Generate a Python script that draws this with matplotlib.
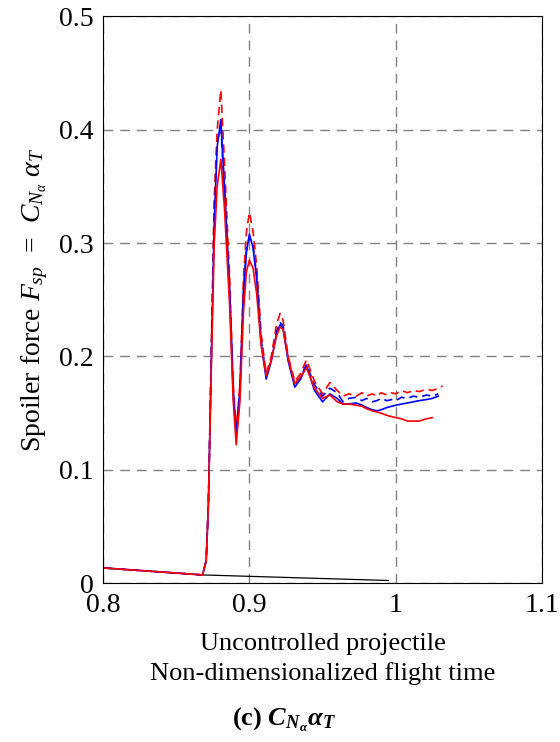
import numpy as np
from matplotlib import pyplot as plt

plt.rcParams['font.family'] = ['Liberation Serif', 'DejaVu Serif']
plt.rcParams['mathtext.fontset'] = 'custom'
plt.rcParams['mathtext.rm'] = 'Liberation Serif'
plt.rcParams['mathtext.it'] = 'Liberation Serif:italic'
plt.rcParams['mathtext.bf'] = 'Liberation Serif:italic:bold'

nan = np.nan

# flight time (non-dimensional)
t = [0.800, 0.868, 0.8705, 0.872, 0.874, 0.876, 0.878, 0.8805, 0.883, 0.8865,
     0.889, 0.891, 0.8935, 0.896, 0.898, 0.900, 0.9025, 0.905, 0.908, 0.9115,
     0.915, 0.9185, 0.921, 0.923, 0.9265, 0.931, 0.935, 0.939, 0.9445, 0.950,
     0.955, 0.960, 0.964, 0.968, 0.973, 0.977, 0.980, 0.984, 0.987, 0.990,
     0.994, 0.997, 1.000, 1.004, 1.008, 1.012, 1.016, 1.021, 1.025, 1.029, 1.032]

blue_solid = [0.0135, 0.0073, 0.020, 0.07, 0.20, 0.32, 0.385, 0.409, 0.345, 0.255,
              0.165, 0.130, 0.165, 0.255, 0.292, 0.308, 0.296, 0.268, 0.212, 0.180,
              0.196, 0.220, 0.228, 0.225, 0.196, 0.173, 0.180, 0.192, 0.170, 0.160,
              0.167, 0.163, 0.158, 0.158, 0.159, 0.157, 0.155, 0.153, 0.152, 0.153,
              0.155, 0.156, 0.157, 0.158, 0.159, 0.160, 0.161, 0.162, 0.163, 0.165, nan]

blue_dash = [0.0135, 0.0073, 0.020, 0.07, 0.20, 0.33, 0.39, 0.402, 0.350, 0.26,
             0.170, 0.135, 0.170, 0.26, 0.295, 0.305, 0.298, 0.272, 0.215, 0.183,
             0.198, 0.222, 0.230, 0.227, 0.198, 0.175, 0.182, 0.193, 0.175, 0.165,
             0.172, 0.168, 0.160, 0.163, 0.164, 0.161, 0.163, 0.160, 0.161, 0.163,
             0.161, 0.162, 0.161, 0.164, 0.163, 0.165, 0.164, 0.166, 0.165, 0.167, nan]

red_dash = [0.0135, 0.0073, 0.020, 0.07, 0.21, 0.34, 0.40, 0.435, 0.37, 0.27,
            0.175, 0.135, 0.175, 0.27, 0.31, 0.327, 0.31, 0.28, 0.22, 0.185,
            0.20, 0.228, 0.238, 0.232, 0.20, 0.178, 0.185, 0.197, 0.178, 0.167,
            0.177, 0.170, 0.165, 0.167, 0.165, 0.168, 0.165, 0.167, 0.165, 0.168,
            0.166, 0.168, 0.167, 0.170, 0.168, 0.170, 0.169, 0.171, 0.170, 0.172, 0.174]

red_solid = [0.0135, 0.0073, 0.020, 0.07, 0.19, 0.30, 0.35, 0.374, 0.33, 0.245,
             0.16, 0.122, 0.16, 0.24, 0.275, 0.285, 0.278, 0.255, 0.21, 0.183,
             0.197, 0.218, 0.226, 0.224, 0.198, 0.176, 0.182, 0.190, 0.172, 0.163,
             0.166, 0.160, 0.158, 0.158, 0.157, 0.156, 0.154, 0.152, 0.151, 0.150,
             0.148, 0.147, 0.146, 0.145, 0.143, 0.143, 0.143, 0.145, 0.146, nan, nan]

# uncontrolled projectile
t_unc = [0.800, 0.868, 0.995]
f_unc = [0.0135, 0.0073, 0.0024]

fig = plt.figure(figsize=(5.6, 7.42), dpi=100)
ax = fig.add_axes([0.184, 0.214, 0.784, 0.764])

ax.plot(t_unc, f_unc, color='black', lw=0.9)
ax.plot(t, blue_dash, color='#0000ff', lw=1.2, dashes=(5, 3))
ax.plot(t, red_dash, color='#ff0000', lw=1.2, dashes=(5, 3))
ax.plot(t, blue_solid, color='#0000ff', lw=1.2)
ax.plot(t, red_solid, color='#ff0000', lw=1.2)

ax.set_xlim(0.8, 1.1)
ax.set_ylim(0, 0.5)
ax.set_xticks([0.8, 0.9, 1.0, 1.1])
ax.set_xticklabels(['0.8', '0.9', '1', '1.1'])
ax.set_yticks([0, 0.1, 0.2, 0.3, 0.4, 0.5])
ax.set_yticklabels(['0', '0.1', '0.2', '0.3', '0.4', '0.5'])
ax.tick_params(length=0, labelsize=20)
ax.tick_params(axis='x', pad=7)
ax.tick_params(axis='y', pad=7)
ax.grid(True, color='0.5', lw=1.0, linestyle=(0, (7, 5)))

ax.set_xlabel('Uncontrolled projectile\nNon-dimensionalized flight time',
              fontsize=19, labelpad=11, linespacing=1.4)
ax.set_ylabel(r'Spoiler force $F_{sp}$  =  $C_{N_\alpha}$ $\alpha_T$', fontsize=20, labelpad=6)

fig.text(0.508, 0.022, r'(c) $\mathbf{C_{N_\alpha}\alpha_T}$', ha='center',
         fontsize=19, fontweight='bold')

fig.savefig('out.png', dpi=100)
